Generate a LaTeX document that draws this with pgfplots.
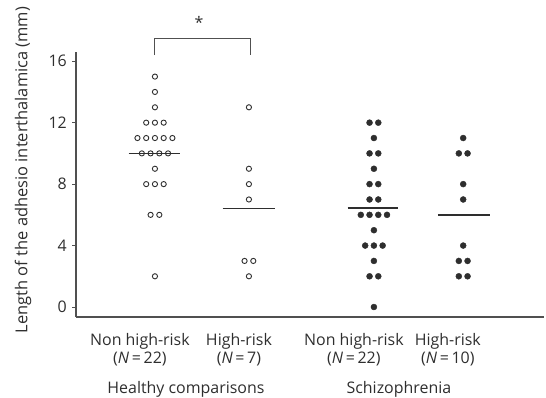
\documentclass[border=0pt]{standalone}
\usepackage{fontspec}
\setmainfont{Open Sans}
\usepackage{pgfplots}
\pgfplotsset{compat=1.18}
\definecolor{ink}{HTML}{2E2E2E}
\definecolor{axisgray}{HTML}{505050}

\begin{document}
\begin{tikzpicture}[x=1bp,y=1bp]
\useasboundingbox (0,0) rectangle (546,397);
\begin{axis}[
  at={(76bp,80bp)}, anchor=south west,
  scale only axis, width=468bp, height=265bp,
  xmin=-0.84, xmax=4.14, ymin=-0.65, ymax=16.6,
  axis x line*=bottom, axis y line*=left,
  axis line style={axisgray, line width=1.1bp},
  ytick={0,4,8,12,16},
  xtick={-0.16,0.894,2.117,3.117},
  xticklabels={{Non high-risk\\(\textit{N}\,=\,22)},{High-risk\\(\textit{N}\,=\,7)},{Non high-risk\\(\textit{N}\,=\,22)},{High-risk\\(\textit{N}\,=\,10)}},
  x tick style={draw=none},
  y tick style={axisgray, line width=0.8bp},
  tick align=outside, major tick length=4bp,
  xticklabel style={align=center, anchor=north, inner sep=0pt, yshift=-12bp, text=ink,
    font=\fontsize{16}{18}\selectfont},
  yticklabel style={inner sep=0pt, xshift=-5bp, text=ink, font=\fontsize{16}{18}\selectfont},
  /pgf/number format/assume math mode=true,
  clip=false,
]
% Healthy comparisons, non high-risk (N=22)
\addplot[only marks, mark=o, mark size=2.6bp, ink, mark options={line width=0.9bp}] coordinates {
  (0,15) (0,14) (0,13)
  (-0.093,12) (0,12) (0.093,12)
  (-0.186,11) (-0.093,11) (0,11) (0.093,11) (0.186,11)
  (-0.1395,10) (-0.0465,10) (0.0465,10) (0.1395,10)
  (0,9)
  (-0.093,8) (0,8) (0.093,8)
  (-0.0465,6) (0.0465,6)
  (0,2)
};
% Healthy comparisons, high-risk (N=7)
\addplot[only marks, mark=o, mark size=2.6bp, ink, mark options={line width=0.9bp}] coordinates {
  (1,13) (1,9) (1,8) (1,7) (0.9535,3) (1.0465,3) (1,2)
};
% Schizophrenia, non high-risk (N=22)
\addplot[only marks, mark=*, mark size=3bp, ink] coordinates {
  (2.2835,12) (2.3765,12)
  (2.33,11)
  (2.2835,10) (2.3765,10)
  (2.33,9)
  (2.2835,8) (2.3765,8)
  (2.2835,7) (2.3765,7)
  (2.1905,6) (2.2835,6) (2.3765,6) (2.4695,6)
  (2.33,5)
  (2.237,4) (2.33,4) (2.423,4)
  (2.33,3)
  (2.2835,2) (2.3765,2)
  (2.33,0)
};
% Schizophrenia, high-risk (N=10)
\addplot[only marks, mark=*, mark size=3bp, ink] coordinates {
  (3.28,11)
  (3.2335,10) (3.3265,10)
  (3.28,8) (3.28,7) (3.28,4)
  (3.2335,3) (3.3265,3)
  (3.2335,2) (3.3265,2)
};
% group means
\addplot[no marks, ink, line width=1.4bp] coordinates {(-0.28,10) (0.27,10)};
\addplot[no marks, ink, line width=1.4bp] coordinates {(0.72,6.43) (1.28,6.43)};
\addplot[no marks, ink, line width=1.4bp] coordinates {(2.05,6.45) (2.59,6.45)};
\addplot[no marks, ink, line width=1.4bp] coordinates {(3.01,6) (3.56,6)};
% significance bracket
\draw[axisgray, line width=1.1bp] (axis cs:0,16.4) -- (axis cs:0,17.5) -- (axis cs:1.02,17.5) -- (axis cs:1.02,16.4);
\node[ink, font=\fontsize{16}{18}\selectfont] at (axis cs:0.47,18.5) {*};
% group labels
\node[anchor=base, text=ink, font=\fontsize{16}{18}\selectfont] at (axis cs:0.33,-5.6) {Healthy comparisons};
\node[anchor=base, text=ink, font=\fontsize{16}{18}\selectfont] at (axis cs:2.596,-5.6) {Schizophrenia};
\end{axis}
\node[rotate=90, text=ink, font=\fontsize{16.5}{18}\selectfont] at (23,227) {Length of the adhesio interthalamica (mm)};
\end{tikzpicture}
\end{document}
